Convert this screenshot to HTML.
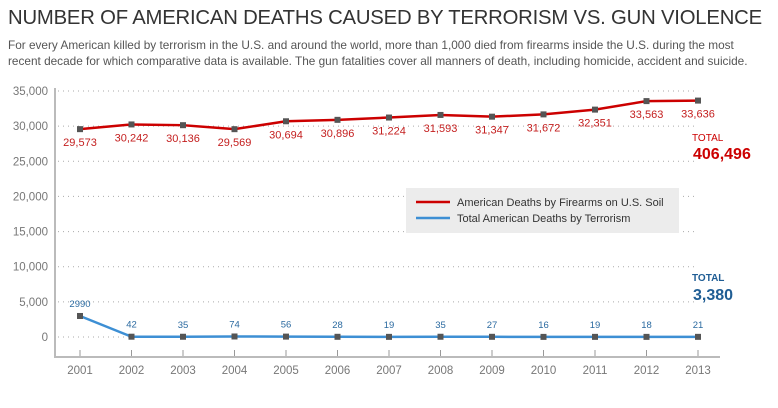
<!DOCTYPE html>
<html><head><meta charset="utf-8"><style>
body{margin:0;background:#fff;font-family:"Liberation Sans",sans-serif;}
#wrap{position:relative;width:778px;height:408px;overflow:hidden;}
h1{position:absolute;left:8px;top:7px;margin:0;font-size:20.3px;font-weight:normal;color:#333;letter-spacing:-0.2px;white-space:nowrap;}
p{position:absolute;left:8px;top:37px;margin:0;font-size:11.8px;line-height:16px;color:#555;width:775px;white-space:nowrap;}
</style></head><body>
<div id="wrap">
<h1>NUMBER OF AMERICAN DEATHS CAUSED BY TERRORISM VS. GUN VIOLENCE</h1>
<p>For every American killed by terrorism in the U.S. and around the world, more than 1,000 died from firearms inside the U.S. during the most<br>recent decade for which comparative data is available. The gun fatalities cover all manners of death, including homicide, accident and suicide.</p>
<svg id="svg" width="778" height="408" style="position:absolute;left:0;top:0"></svg>
</div>
<script>
const years=[2001,2002,2003,2004,2005,2006,2007,2008,2009,2010,2011,2012,2013];
const firearms=[29573,30242,30136,29569,30694,30896,31224,31593,31347,31672,32351,33563,33636];
const terrorism=[2990,42,35,74,56,28,19,35,27,16,19,18,21];
const yTicks=[0,5000,10000,15000,20000,25000,30000,35000];
const firearmsLabels=["29,573","30,242","30,136","29,569","30,694","30,896","31,224","31,593","31,347","31,672","32,351","33,563","33,636"];
const terrorLabels=["2990","42","35","74","56","28","19","35","27","16","19","18","21"];
const svg=document.getElementById('svg');
const NS='http://www.w3.org/2000/svg';
const x=i=>80+i*51.5;
const y=v=>337-v*(246/35000);
function mk(t,a,txt){const e=document.createElementNS(NS,t);for(const k in a)e.setAttribute(k,a[k]);if(txt!==undefined)e.textContent=txt;svg.appendChild(e);return e;}
yTicks.forEach(v=>{
 const g=mk('line',{x1:58,x2:698,y1:y(v),y2:y(v),stroke:'#aaa','stroke-width':1,'stroke-dasharray':'1 4'});
 
 
 const t=mk('text',{x:48,y:y(v)+4,'text-anchor':'end','font-size':11.5,fill:'#777'},v.toLocaleString('en-US'));
 
 
});
let ax=mk('path',{d:'M55 88 V357 H720',fill:'none',stroke:'#bbb','stroke-width':2});


years.forEach((yr,i)=>{
 const tk=mk('line',{x1:x(i),x2:x(i),y1:350,y2:356,stroke:'#999'});
 
 
 const t=mk('text',{x:x(i),y:374,'text-anchor':'middle','font-size':11.5,fill:'#777'},yr);
 
 
});
let lb=mk('rect',{x:406,y:188,width:273,height:45,fill:'#ececec'});


mk('line',{x1:416,x2:450,y1:202,y2:202,stroke:'#c00','stroke-width':2.5});
mk('line',{x1:416,x2:450,y1:218,y2:218,stroke:'#3d8fd4','stroke-width':2.5});
let l1=mk('text',{x:457,y:206,'font-size':11,fill:'#333'},'American Deaths by Firearms on U.S. Soil');


let l2=mk('text',{x:457,y:222,'font-size':11,fill:'#333'},'Total American Deaths by Terrorism');


function series(vals,labels,color,lc,dy,name){
 const p=mk('polyline',{points:vals.map((v,i)=>x(i)+','+y(v)).join(' '),fill:'none',stroke:color,'stroke-width':2.5});
 
 
 vals.forEach((v,i)=>{
  const r=mk('rect',{x:x(i)-3,y:y(v)-3,width:6,height:6,fill:'#555'});
  
  
  const t=mk('text',{x:x(i),y:y(v)+dy,'text-anchor':'middle','font-size':dy>0?11:9.5,fill:lc},labels[i]);
  
  
 });
}
series(firearms,firearmsLabels,'#c00','#c41e1e',17,'firearms');
series(terrorism,terrorLabels,'#3d8fd4','#2b6aa0',-9,'terrorism');
let t1=mk('text',{x:692,y:141,'font-size':10,fill:'#c00'},'TOTAL');


let t2=mk('text',{x:693,y:159,'font-size':16,'font-weight':'bold',fill:'#c00'},'406,496');


let t3=mk('text',{x:692,y:281,'font-size':10,'font-weight':'bold',fill:'#1f5d94'},'TOTAL');


let t4=mk('text',{x:693,y:300,'font-size':16,'font-weight':'bold',fill:'#1f5d94'},'3,380');


</script>
</body></html>
